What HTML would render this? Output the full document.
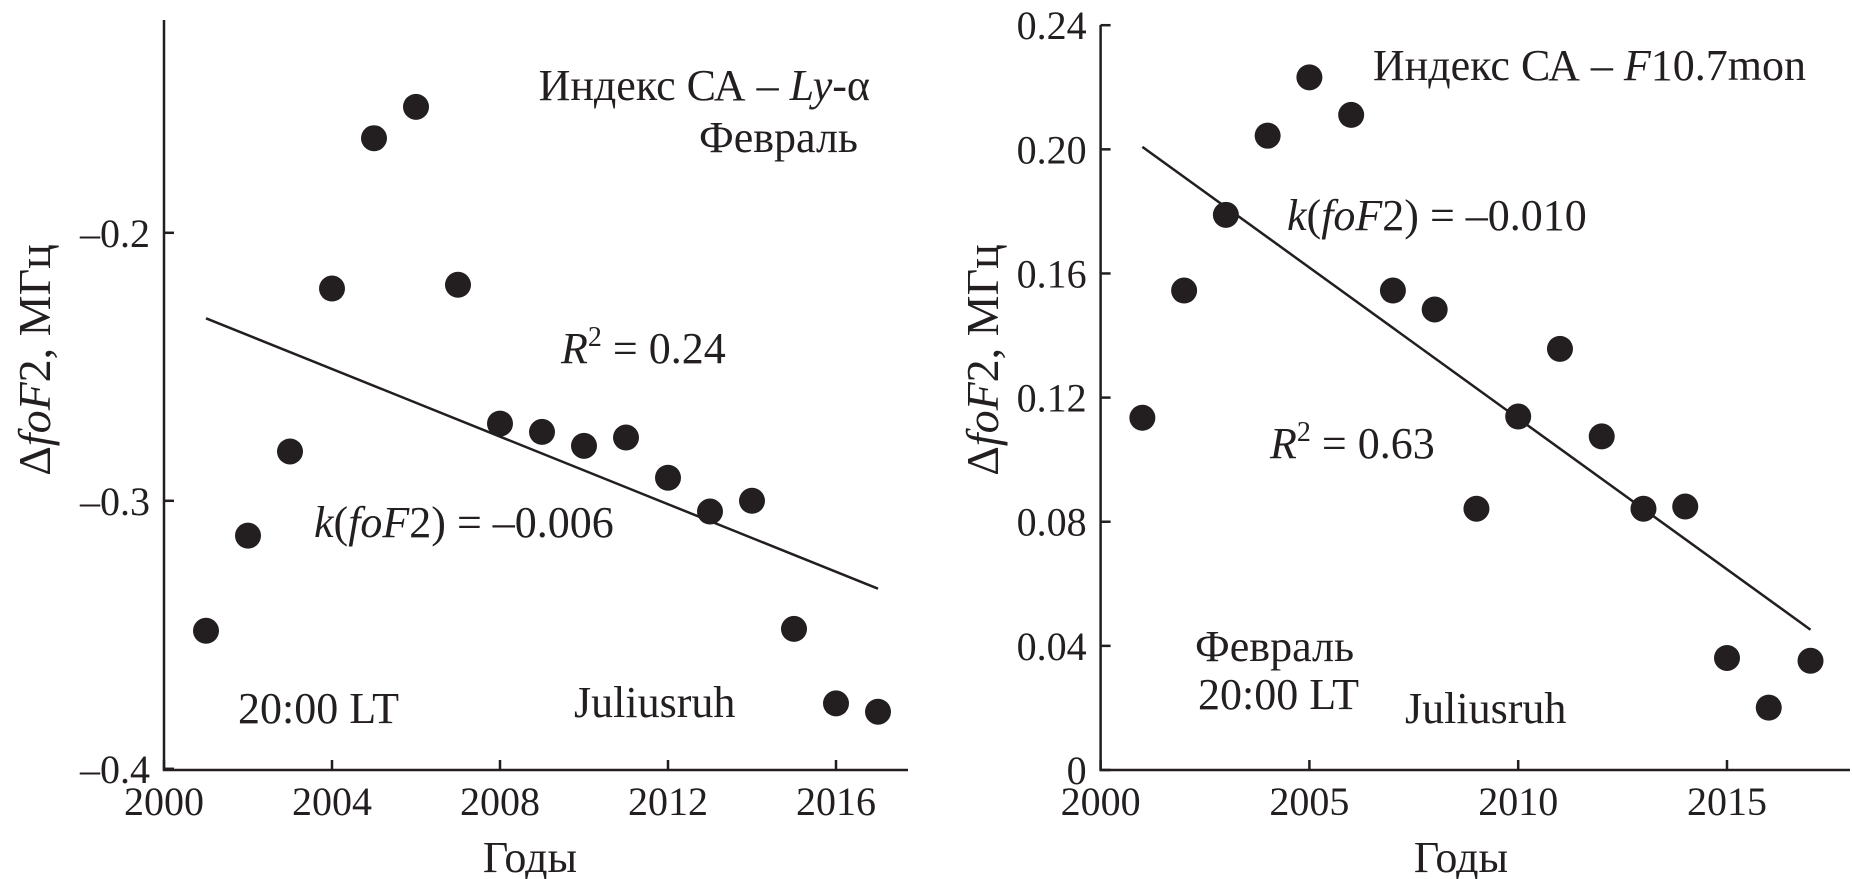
<!DOCTYPE html>
<html><head><meta charset="utf-8"><style>
html,body{margin:0;padding:0;background:#fff;}
svg{display:block;font-family:"Liberation Serif","DejaVu Serif",serif;fill:#231f20;}
</style></head><body>
<svg id="chart" width="1852" height="879" viewBox="0 0 1852 879" xmlns="http://www.w3.org/2000/svg">
<g id="left"></g>
<g id="right"></g>
</svg>
<script>
const years = [2001,2002,2003,2004,2005,2006,2007,2008,2009,2010,2011,2012,2013,2014,2015,2016,2017];
const leftValues = [-0.3485,-0.313,-0.2816,-0.2208,-0.1647,-0.153,-0.2194,-0.2712,-0.2743,-0.2795,-0.2764,-0.2914,-0.304,-0.300,-0.3478,-0.3756,-0.3787];
const leftFit = [-0.2319,-0.3328];
const leftXTicks = [2000,2004,2008,2012,2016];
const leftYTicks = [-0.2,-0.3,-0.4];
const leftYLabels = ["\u20130.2","\u20130.3","\u20130.4"];
const rightValues = [0.1135,0.1545,0.1789,0.2044,0.2232,0.2111,0.1545,0.1484,0.0842,0.1139,0.1357,0.1075,0.0842,0.0849,0.0361,0.0201,0.0352];
const rightFit = [0.2008,0.0452];
const rightXTicks = [2000,2005,2010,2015];
const rightYTicks = [0,0.04,0.08,0.12,0.16,0.20,0.24];
const rightYLabels = ["0","0.04","0.08","0.12","0.16","0.20","0.24"];

const NS="http://www.w3.org/2000/svg";
function mk(parent,tag,attrs,text){const e=document.createElementNS(NS,tag);for(const k in attrs)e.setAttribute(k,attrs[k]);if(text!==undefined)e.innerHTML=text;parent.appendChild(e);return e;}

function panel(g,cfg){
  const xs=y=>cfg.x0+(y-cfg.xa)*(cfg.x1-cfg.x0)/(cfg.xb-cfg.xa);
  const ys=v=>cfg.y0+(v-cfg.ya)*(cfg.y1-cfg.y0)/(cfg.yb-cfg.ya);
  const ax=mk(g,'path',{d:`M${cfg.x0} ${cfg.top} V${cfg.base} H${cfg.right}`,stroke:'#231f20','stroke-width':2.5,fill:'none'});
  
  
  cfg.xticks.forEach(t=>{
    const x=xs(t);
    const tk=mk(g,'line',{x1:x,x2:x,y1:cfg.base,y2:cfg.base-10,stroke:'#231f20','stroke-width':2.5});
    
    
    const l=mk(g,'text',{x:x,y:815,'font-size':40,'text-anchor':'middle'},String(t));
    
    
  });
  cfg.yticks.forEach((t,i)=>{
    const y=ys(t);
    const tk=mk(g,'line',{x1:cfg.x0,x2:cfg.x0+10,y1:y,y2:y,stroke:'#231f20','stroke-width':2.5});
    
    
    const l=mk(g,'text',{x:cfg.x0-14,y:y+14,'font-size':40,'text-anchor':'end'},cfg.ylabels[i]);
    
    
  });
  const fl=mk(g,'line',{x1:xs(years[0]),y1:ys(cfg.fit[0]),x2:xs(years[years.length-1]),y2:ys(cfg.fit[1]),stroke:'#231f20','stroke-width':2.5});
  
  
  years.forEach((yr,i)=>{
    const c=mk(g,'circle',{cx:xs(yr),cy:ys(cfg.vals[i]),r:13,fill:'#231f20'});
    
    
  });
}
panel(document.getElementById('left'),{x0:164,x1:332,xa:2000,xb:2004,y0:232.8,y1:500.8,ya:-0.2,yb:-0.3,top:20,base:770,right:908,xticks:leftXTicks,yticks:leftYTicks,ylabels:leftYLabels,vals:leftValues,fit:leftFit});
panel(document.getElementById('right'),{x0:1100.6,x1:1309.4,xa:2000,xb:2005,y0:770,y1:25.2,ya:0,yb:0.24,top:25,base:770,right:1850,xticks:rightXTicks,yticks:rightYTicks,ylabels:rightYLabels,vals:rightValues,fit:rightFit});
</script>
<svg style="position:absolute;left:0;top:0" width="1852" height="879" viewBox="0 0 1852 879" xmlns="http://www.w3.org/2000/svg" font-family="Liberation Serif, DejaVu Serif, serif" fill="#231f20">
<text x="870" y="100" font-size="44" text-anchor="end">Индекс СА – <tspan font-style="italic">Ly</tspan>-α</text>
<text x="858" y="152" font-size="44" text-anchor="end">Февраль</text>
<text x="561" y="363" font-size="44"><tspan font-style="italic">R</tspan><tspan font-size="28" dy="-17">2</tspan><tspan dy="17"> = 0.24</tspan></text>
<text x="314" y="537" font-size="44"><tspan font-style="italic">k</tspan>(<tspan font-style="italic">foF</tspan>2) = –0.006</text>
<text x="238" y="723" font-size="44">20:00 LT</text>
<text x="574" y="717" font-size="44">Juliusruh</text>
<text transform="translate(50,360) rotate(-90)" font-size="46" text-anchor="middle">Δ<tspan font-style="italic">foF</tspan>2, МГц</text>
<text x="530" y="872" font-size="44" text-anchor="middle">Годы</text>
<text x="1806" y="80" font-size="44" text-anchor="end">Индекс СА – <tspan font-style="italic">F</tspan>10.7mon</text>
<text x="1287" y="230" font-size="44"><tspan font-style="italic">k</tspan>(<tspan font-style="italic">foF</tspan>2) = –0.010</text>
<text x="1270" y="458" font-size="44"><tspan font-style="italic">R</tspan><tspan font-size="28" dy="-17">2</tspan><tspan dy="17"> = 0.63</tspan></text>
<text x="1195" y="661" font-size="44">Февраль</text>
<text x="1198" y="709" font-size="44">20:00 LT</text>
<text x="1405" y="723" font-size="44">Juliusruh</text>
<text transform="translate(998,360) rotate(-90)" font-size="46" text-anchor="middle">Δ<tspan font-style="italic">foF</tspan>2, МГц</text>
<text x="1461" y="872" font-size="44" text-anchor="middle">Годы</text>
</svg>
</body></html>
